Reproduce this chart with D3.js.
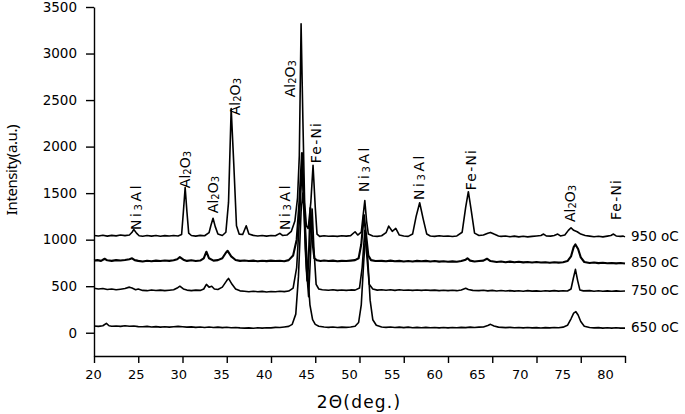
<!DOCTYPE html>
<html><head><meta charset="utf-8">
<script src="https://cdn.jsdelivr.net/npm/d3@7"></script>
<style>body{margin:0;background:#fff;} svg{display:block;}</style>
</head><body>
<svg id="chart" width="685" height="414"></svg>
<script>
// ---------- data ----------
const xMajorTicks = [20,25,30,35,40,45,50,55,60,65,70,75,80];
const yMajorTicks = [0,500,1000,1500,2000,2500,3000,3500];
const seriesNames = ["950 oC","850 oC","750 oC","650 oC"];

const s950 = [[20,1045],[20.5,1040],[21,1048],[21.5,1038],[22,1046],[22.5,1041],[23,1050],[23.5,1043],[24,1050],[24.3,1080],[24.5,1110],[24.8,1070],[25.1,1042],[25.5,1036],[26,1044],[26.5,1038],[27,1045],[27.5,1037],[28,1043],[28.5,1039],[29,1044],[29.5,1040],[29.9,1055],[30.1,1300],[30.3,1560],[30.5,1300],[30.7,1070],[31,1045],[31.5,1038],[32,1046],[32.5,1042],[33,1075],[33.2,1150],[33.45,1230],[33.7,1140],[34,1060],[34.5,1045],[34.9,1080],[35.2,1400],[35.5,2410],[35.8,1800],[36.1,1150],[36.4,1060],[36.8,1055],[37.2,1150],[37.5,1060],[38,1046],[38.5,1040],[39,1045],[39.5,1038],[40,1044],[40.5,1042],[41,1068],[41.3,1045],[41.8,1050],[42.3,1090],[42.7,1200],[43.0,1450],[43.2,1900],[43.4,3320],[43.6,2300],[43.8,1400],[44.0,1150],[44.2,1120],[44.5,1400],[44.75,1800],[45.0,1350],[45.2,1060],[45.5,1035],[46,1042],[46.5,1036],[47,1040],[47.5,1035],[48,1042],[48.5,1038],[49,1043],[49.5,1085],[49.8,1050],[50.2,1080],[50.4,1250],[50.6,1420],[50.8,1200],[51.0,1060],[51.5,1040],[52,1035],[52.5,1042],[53,1075],[53.3,1146],[53.7,1090],[54.1,1121],[54.5,1050],[55,1040],[55.5,1035],[56,1060],[56.4,1250],[56.8,1397],[57.2,1220],[57.6,1060],[58,1040],[58.5,1035],[59,1042],[59.5,1036],[60,1040],[60.5,1034],[61,1040],[61.6,1080],[62.0,1350],[62.3,1515],[62.6,1330],[63,1070],[63.5,1045],[64,1050],[64.5,1070],[64.8,1078],[65.2,1060],[65.7,1040],[66,1035],[66.5,1040],[67,1032],[67.5,1038],[68,1030],[68.5,1036],[69,1030],[69.5,1035],[70,1040],[70.5,1045],[70.8,1060],[71.1,1040],[71.6,1038],[72,1045],[72.4,1060],[72.7,1040],[73.2,1050],[73.6,1100],[73.9,1128],[74.2,1100],[74.6,1085],[75,1060],[75.5,1045],[76,1038],[76.5,1032],[77,1036],[77.5,1030],[78,1038],[78.4,1045],[78.7,1060],[79,1040],[79.5,1035],[79.8,1038],[80,1030]];

const s850 = [[20,775],[20.4,780],[20.8,772],[21.2,795],[21.5,778],[22,772],[22.5,780],[23,776],[23.5,782],[24,790],[24.3,800],[24.6,780],[25,772],[25.5,765],[26,773],[26.5,768],[27,775],[27.5,770],[28,776],[28.5,772],[29,778],[29.4,790],[29.7,812],[30.1,785],[30.5,772],[31,778],[31.5,770],[32,776],[32.4,800],[32.7,870],[33,800],[33.5,775],[34,780],[34.5,800],[34.9,860],[35.1,880],[35.5,820],[36,782],[36.5,772],[37,776],[37.5,770],[38,775],[38.5,768],[39,774],[39.5,769],[40,775],[40.5,770],[41,773],[41.5,768],[42,780],[42.5,830],[42.9,1000],[43.2,1400],[43.5,1930],[43.7,1500],[43.9,900],[44.1,560],[44.3,900],[44.45,1340],[44.65,1000],[44.9,800],[45.2,778],[45.6,770],[46,776],[46.5,770],[47,775],[47.5,768],[48,772],[48.5,770],[49,775],[49.5,780],[49.9,800],[50.2,950],[50.5,1264],[50.75,1050],[51.0,830],[51.3,780],[51.8,770],[52.5,772],[53,768],[53.5,775],[54,768],[54.5,772],[55,765],[55.5,770],[56,765],[56.5,772],[57,768],[57.5,772],[58,765],[58.5,770],[59,764],[59.5,768],[60,762],[60.5,767],[61,763],[61.5,770],[62.0,785],[62.2,800],[62.5,775],[63,765],[63.5,770],[64,775],[64.4,795],[64.8,770],[65.5,760],[66,765],[66.5,758],[67,764],[67.5,757],[68,762],[68.5,756],[69,760],[69.5,755],[70,760],[70.5,754],[71,758],[71.5,752],[72,757],[72.5,753],[73,758],[73.5,770],[73.9,820],[74.2,920],[74.4,949],[74.7,900],[75,810],[75.4,760],[76,750],[76.5,755],[77,748],[77.5,752],[78,746],[78.5,750],[79,745],[79.5,749],[80,744]];

const s750 = [[20,478],[20.5,470],[21,475],[21.5,465],[22,470],[22.5,462],[23,468],[23.5,475],[24,490],[24.3,480],[24.7,462],[25,470],[25.5,455],[26,452],[26.5,460],[27,453],[27.5,458],[28,452],[28.5,457],[29,462],[29.4,480],[29.7,500],[30.1,470],[30.5,458],[31,452],[31.5,458],[32,455],[32.4,470],[32.7,520],[33,490],[33.3,500],[33.6,470],[34,465],[34.5,490],[35,560],[35.2,584],[35.6,520],[36,470],[36.5,450],[37,445],[37.5,440],[38,446],[38.5,440],[39,444],[39.5,438],[40,443],[40.5,440],[41,446],[41.5,442],[42,448],[42.5,480],[42.9,700],[43.2,1200],[43.5,1750],[43.75,1300],[44.0,700],[44.25,386],[44.45,800],[44.65,1330],[44.85,900],[45.1,520],[45.4,470],[45.8,462],[46.5,456],[47,462],[47.5,455],[48,460],[48.5,455],[49,460],[49.5,458],[50,480],[50.3,700],[50.6,1100],[50.85,800],[51.1,520],[51.5,470],[52,458],[52.5,462],[53,456],[53.5,462],[54,455],[54.5,462],[55,456],[55.5,460],[56,455],[56.5,460],[57,455],[57.5,460],[58,455],[58.5,458],[59,452],[59.5,456],[60,452],[60.5,456],[61,452],[61.5,460],[62,478],[62.3,465],[62.8,455],[63.5,452],[64,456],[64.5,450],[65,455],[65.5,448],[66,453],[66.5,448],[67,452],[67.5,447],[68,451],[68.5,446],[69,452],[69.5,447],[70,450],[70.5,446],[71,451],[71.5,447],[72,452],[72.5,447],[73,451],[73.5,448],[73.9,470],[74.15,580],[74.4,681],[74.65,560],[74.9,460],[75.3,450],[76,452],[76.5,446],[77,451],[77.5,446],[78,450],[78.5,445],[79,450],[79.5,446],[80,448]];

const s650 = [[20,72],[20.5,68],[21,75],[21.4,100],[21.7,75],[22,70],[22.5,72],[23,68],[23.5,75],[24,70],[24.5,72],[25,66],[25.5,64],[26,68],[26.5,62],[27,66],[27.5,60],[28,64],[28.5,60],[29,65],[29.5,68],[30,64],[30.5,60],[31,63],[31.5,58],[32,62],[32.5,57],[33,62],[33.5,56],[34,60],[34.5,55],[35,59],[35.5,54],[36,57],[36.5,52],[37,50],[37.5,52],[38,48],[38.5,53],[39,50],[39.5,54],[40,52],[40.5,58],[41,56],[41.5,62],[42,68],[42.4,90],[42.8,200],[43.1,600],[43.4,1300],[43.6,1500],[43.85,1200],[44.1,700],[44.4,300],[44.7,140],[45.0,90],[45.4,70],[46,62],[46.5,58],[47,62],[47.5,56],[48,60],[48.5,58],[49,62],[49.5,70],[49.9,110],[50.2,300],[50.5,800],[50.7,1050],[50.9,850],[51.2,350],[51.5,140],[51.9,80],[52.5,62],[53,58],[53.5,62],[54,56],[54.5,60],[55,55],[55.5,60],[56,54],[56.5,58],[57,53],[57.5,58],[58,54],[58.5,57],[59,52],[59.5,56],[60,52],[60.5,57],[61,53],[61.5,58],[62,55],[62.5,60],[63,56],[63.5,60],[64,62],[64.5,78],[64.8,90],[65.2,72],[65.7,60],[66.5,55],[67,58],[67.5,53],[68,57],[68.5,52],[69,56],[69.5,52],[70,55],[70.5,51],[71,55],[71.5,52],[72,56],[72.5,54],[73,60],[73.5,80],[73.9,150],[74.2,210],[74.45,226],[74.7,190],[75,120],[75.4,70],[76,56],[76.5,52],[77,55],[77.5,50],[78,54],[78.5,50],[79,53],[79.5,50],[80,50]];

// peak annotations: text parts ("s" = subscript), 2theta and intensity at label foot
const peakLabelTexts = [
  [["Ni",""],["3","s"],["Al",""]],
  [["Al",""],["2","s"],["O",""],["3","s"]],
  [["Al",""],["2","s"],["O",""],["3","s"]],
  [["Al",""],["2","s"],["O",""],["3","s"]],
  [["Al",""],["2","s"],["O",""],["3","s"]],
  [["Ni",""],["3","s"],["Al",""]],
  [["Fe-Ni",""]],
  [["Ni",""],["3","s"],["Al",""]],
  [["Ni",""],["3","s"],["Al",""]],
  [["Fe-Ni",""]],
  [["Al",""],["2","s"],["O",""],["3","s"]],
  [["Fe-Ni",""]]
];
const peakLabelTheta = [24.75,30.3,33.4,35.95,42.2,41.6,45.05,50.5,56.7,62.6,73.8,79.0];
const peakLabelFoot  = [1103,1553,1285,2337,2530,1103,1822,1511,1425,1532,1189,1210];

// ---------- drawing ----------
const svg = d3.select("#chart");
const x = d3.scaleLinear().domain([20,80]).range([94,625]);
const xLab = d3.scaleLinear().domain([20,80]).range([93,605]);
const y = d3.scaleLinear().domain([-250,3500]).range([356,7]);

const series = [s950,s850,s750,s650];
const widths = [1.6,2.1,1.6,1.6];

const line = d3.line().x(d=>x(d[0])).y(d=>y(d[1]));
series.forEach((s,i)=>{
  svg.append("path").attr("d",line(s)).attr("fill","none")
    .attr("stroke","#000").attr("stroke-width",widths[i]).attr("stroke-linejoin","round");
});

// axes
const gx = svg.append("g").attr("transform",`translate(0,${y(-250)})`);
gx.call(d3.axisBottom(x).tickValues(d3.range(22.5,80,5)).tickSize(4).tickSizeOuter(0).tickFormat(""));
gx.call(d3.axisBottom(x).tickValues(xMajorTicks).tickSize(7).tickSizeOuter(0).tickFormat(""));
gx.selectAll("path,line").attr("stroke","#000").attr("stroke-width",1.4);

const gxl = svg.append("g").attr("transform",`translate(0,${y(-250)})`)
  .call(d3.axisBottom(xLab).tickValues(xMajorTicks).tickSize(0).tickPadding(14).tickFormat(d3.format("d")));
gxl.select(".domain").remove();
gxl.selectAll("text").attr("font-family","DejaVu Sans").attr("font-size",13).attr("fill","#000");

const gy = svg.append("g").attr("transform",`translate(${x(20)},0)`);
gy.call(d3.axisLeft(y).tickValues(d3.range(-250,3501,500)).tickSize(4).tickSizeOuter(0).tickFormat(""));
gy.call(d3.axisLeft(y).tickValues(yMajorTicks).tickSize(8).tickSizeOuter(0).tickPadding(9).tickFormat(d3.format("d")));
gy.selectAll("path,line").attr("stroke","#000").attr("stroke-width",1.4);
gy.selectAll("text").attr("font-family","DejaVu Sans").attr("font-size",13.5).attr("fill","#000");

// axis titles
svg.append("text").attr("x",359).attr("y",402).attr("text-anchor","middle")
  .attr("dominant-baseline","central")
  .attr("font-family","DejaVu Sans").attr("font-size",17).attr("letter-spacing",1.2)
  .text("2\u0398(deg.)");
svg.append("text").attr("transform","translate(11,170) rotate(-90)")
  .attr("text-anchor","middle").attr("dominant-baseline","central")
  .attr("font-family","Noto Sans").attr("font-size",15).attr("letter-spacing",-0.4)
  .text("Intensity(a.u.)");

// series labels
series.forEach((s,i)=>{
  const last = s[s.length-1];
  svg.append("text").attr("x",x(last[0])+6).attr("y",y(last[1])-1)
    .attr("dominant-baseline","central")
    .attr("font-family","DejaVu Sans").attr("font-size",13.5)
    .text(seriesNames[i]);
});

// peak labels
peakLabelTexts.forEach((parts,i)=>{
  const isNi3 = parts.length===3;
  const isFe = parts.length===1;
  const t = svg.append("text")
    .attr("transform",`translate(${x(peakLabelTheta[i])},${y(peakLabelFoot[i])}) rotate(-90)`)
    .attr("dominant-baseline","central")
    .attr("font-family","DejaVu Sans").attr("font-size",14)
    .attr("letter-spacing", isNi3?2.6:(isFe?1.2:0));
  parts.forEach(p=>{
    const ts = t.append("tspan").text(p[0]);
    if(p[1]==="s") ts.attr("font-size",10).attr("dy",2);
    else if(t.selectAll("tspan").size()>1) ts.attr("dy",-2);
  });
});
</script>
</body></html>
